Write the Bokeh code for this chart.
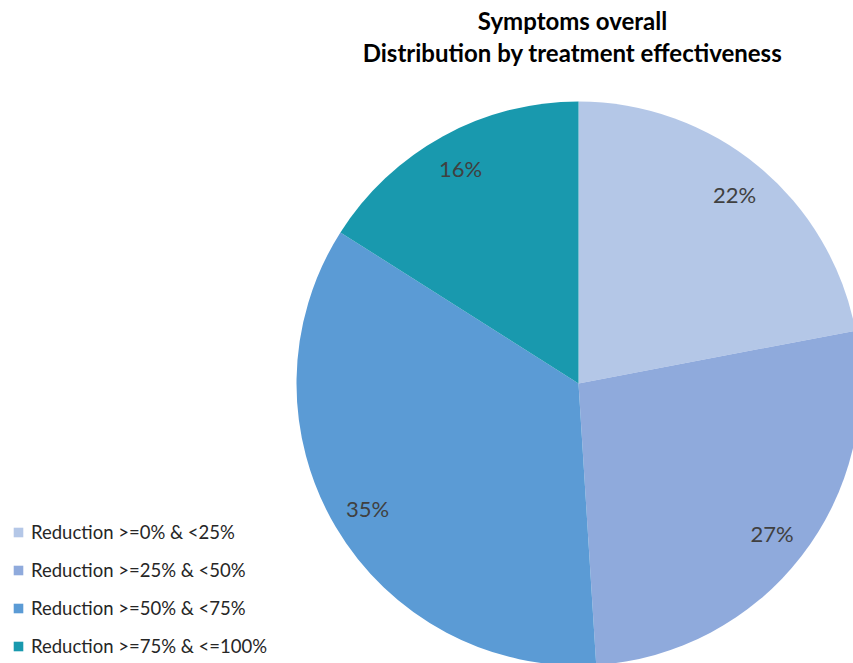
import numpy as np
from bokeh.plotting import figure
from bokeh.models import Range1d, Legend, LegendItem, ColumnDataSource
from bokeh.core.properties import value
from bokeh.embed import file_html
from bokeh.resources import INLINE

categories = ["Reduction >=0% & <25%", "Reduction >=25% & <50%",
              "Reduction >=50% & <75%", "Reduction >=75% & <=100%"]
shares = [22, 27, 35, 16]
labels = ["22%", "27%", "35%", "16%"]
colors = ["#B4C7E7", "#8FAADC", "#5B9BD5", "#1999AE"]
title_lines = ["Symptoms overall", "Distribution by treatment effectiveness"]

W, H = 853, 663
CX, CY, R = 578, H - 383, 282
LABEL_R = 245

p = figure(width=W, height=H, output_backend="svg", toolbar_location=None,
           x_range=Range1d(0, W), y_range=Range1d(0, H), min_border=0)
p.axis.visible = False
p.grid.visible = False
p.outline_line_color = None
p.background_fill_color = "white"

vals = np.array(shares, dtype=float)
frac = vals / vals.sum()
cum = np.concatenate([[0], np.cumsum(frac)])
start = np.pi / 2 - cum[:-1] * 2 * np.pi
end = np.pi / 2 - cum[1:] * 2 * np.pi
mid = (start + end) / 2

src = ColumnDataSource(dict(start=start, end=end, color=colors, cat=categories,
                            lx=CX + LABEL_R * np.cos(mid), ly=CY + LABEL_R * np.sin(mid),
                            label=labels))
p.wedge(x=CX, y=CY, radius=R, start_angle="start", end_angle="end",
        direction="clock", fill_color="color", line_color=None, source=src)
p.text(x="lx", y="ly", text="label", source=src, text_align="center",
       text_baseline="middle", text_font=value("Lato"), text_font_size="22px",
       text_color="#404040")

p.text(x=[572, 572], y=[H - 20, H - 52], text=title_lines, text_align="center",
       text_baseline="middle", text_font=value("Lato"), text_font_size="24px",
       text_font_style="bold", text_color="#000000")

items = []
for c, col in zip(categories, colors):
    r = p.quad(left=[-600], right=[-590], bottom=[-600], top=[-590],
               fill_color=col, line_color=None)
    items.append(LegendItem(label=c, renderers=[r]))
legend = Legend(items=items, location=(12, 6), orientation="vertical",
                glyph_width=12, glyph_height=12, label_height=12, spacing=16,
                label_text_font="Lato", label_text_font_size="18.5px",
                label_text_color="#262626", label_standoff=7,
                label_text_baseline="middle",
                padding=0, margin=0, background_fill_alpha=0, border_line_color=None)
p.add_layout(legend, "center")

open("out.html", "w").write(file_html(p, INLINE))
